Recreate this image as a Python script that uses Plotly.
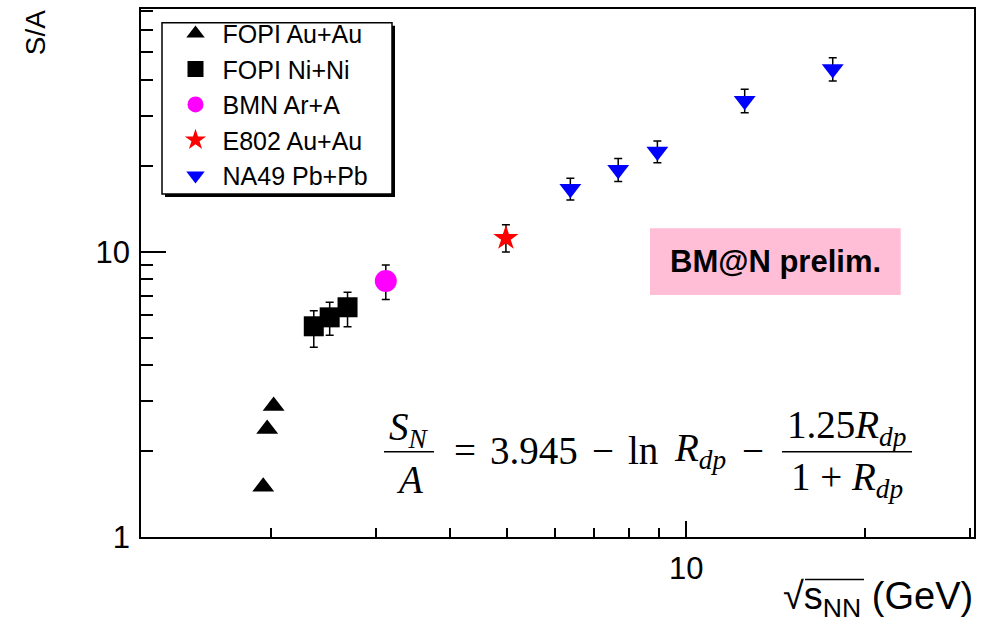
import math
import plotly.graph_objects as go

# ---------------- data ----------------
fopi_au_x = [1.94, 1.97, 2.02]
fopi_au_y = [1.50, 2.39, 2.88]

fopi_ni_x = [2.36, 2.51, 2.69]
fopi_ni_y = [5.48, 5.89, 6.39]
fopi_ni_eplus = [0.73, 0.76, 0.82]
fopi_ni_eminus = [0.85, 0.79, 0.93]

bmn_x = [3.12]
bmn_y = [7.90]
bmn_eplus = [1.08]
bmn_eminus = [1.09]

e802_x = [4.97]
e802_y = [11.17]
e802_eplus = [1.26]
e802_eminus = [1.19]

na49_x = [6.38, 7.68, 8.94, 12.54, 17.64]
na49_y = [16.64, 19.38, 22.47, 33.86, 43.75]
na49_eplus = [1.46, 1.87, 2.01, 3.27, 4.11]
na49_eminus = [1.46, 1.75, 1.94, 3.14, 4.06]

x_range = [1.208, 30.5]
y_range = [1.0, 71.0]
x_major = [10]
x_minor = [2, 3, 4, 5, 6, 7, 8, 9, 20, 30]
y_major = [1, 10]
y_minor = [2, 3, 4, 5, 6, 7, 8, 9, 20, 30, 40, 50, 60, 70]

# ---------------- layout helpers (pixel -> paper) ----------------
W, H = 987, 626
L, R, T, B = 141, 974, 7.3, 537.3


def px(xp):
    return (xp - L) / (R - L)


def py(yp):
    return (B - yp) / (B - T)


SANS = "Liberation Sans, Arial, Helvetica, sans-serif"
SERIF = "Liberation Serif, Times New Roman, serif"

fig = go.Figure()

err_style = dict(color="black", thickness=1.5, width=4)

fig.add_trace(go.Scatter(x=fopi_au_x, y=fopi_au_y, mode="markers", name="FOPI Au+Au",
                         marker=dict(symbol="triangle-up", size=19, color="black")))
fig.add_trace(go.Scatter(x=fopi_ni_x, y=fopi_ni_y, mode="markers", name="FOPI Ni+Ni",
                         marker=dict(symbol="square", size=20, color="black"),
                         error_y=dict(type="data", array=fopi_ni_eplus, arrayminus=fopi_ni_eminus,
                                      symmetric=False, **err_style)))
fig.add_trace(go.Scatter(x=bmn_x, y=bmn_y, mode="markers", name="BMN Ar+A",
                         marker=dict(symbol="circle", size=22, color="#ff00ff"),
                         error_y=dict(type="data", array=bmn_eplus, arrayminus=bmn_eminus,
                                      symmetric=False, **err_style)))
fig.add_trace(go.Scatter(x=e802_x, y=e802_y, mode="markers", name="E802 Au+Au",
                         marker=dict(symbol="star", size=19, color="#ff0000"),
                         error_y=dict(type="data", array=e802_eplus, arrayminus=e802_eminus,
                                      symmetric=False, **err_style)))
fig.add_trace(go.Scatter(x=na49_x, y=na49_y, mode="markers", name="NA49 Pb+Pb",
                         marker=dict(symbol="triangle-down", size=19, color="#0000ff"),
                         error_y=dict(type="data", array=na49_eplus, arrayminus=na49_eminus,
                                      symmetric=False, **err_style)))

axis_common = dict(showgrid=False, zeroline=False, showline=True, linecolor="black",
                   linewidth=1.5, mirror=True, ticks="inside", tickcolor="black",
                   tickwidth=1.5)

fig.update_xaxes(type="log", range=[math.log10(x_range[0]), math.log10(x_range[1])],
                 tickvals=x_major, ticktext=[str(v) for v in x_major], ticklen=16,
                 tickfont=dict(family=SANS, size=31, color="black"),
                 ticklabelstandoff=3,
                 minor=dict(tickvals=x_minor, ticks="inside", ticklen=9, tickcolor="black",
                            tickwidth=1.5, showgrid=False),
                 **axis_common)
fig.update_yaxes(type="log", range=[math.log10(y_range[0]), math.log10(y_range[1])],
                 tickvals=y_major, ticktext=[str(v) for v in y_major], ticklen=25,
                 tickfont=dict(family=SANS, size=31, color="black"),
                 ticklabelstandoff=3,
                 minor=dict(tickvals=y_minor, ticks="inside", ticklen=12.5, tickcolor="black",
                            tickwidth=1.5, showgrid=False),
                 **axis_common)

shapes = []
annotations = []

# legend box with shadow
shapes.append(dict(type="rect", xref="paper", yref="paper",
                   x0=px(165), x1=px(395), y0=py(196), y1=py(24),
                   fillcolor="black", line=dict(width=0), layer="above"))
shapes.append(dict(type="rect", xref="paper", yref="paper",
                   x0=px(162), x1=px(392), y0=py(193), y1=py(21),
                   fillcolor="white", line=dict(color="black", width=1.5), layer="above"))

# BM@N prelim. box
shapes.append(dict(type="rect", xref="paper", yref="paper",
                   x0=px(650), x1=px(900.7), y0=py(294.3), y1=py(227.3),
                   fillcolor="#ffbed6", line=dict(width=0), layer="above"))
annotations.append(dict(x=px(775), y=py(261), xref="paper", yref="paper",
                        text="<b>BM@N prelim.</b>", showarrow=False,
                        xanchor="center", yanchor="middle",
                        font=dict(family=SANS, size=31, color="black")))

# formula
fsize = 39
ffont = dict(family=SERIF, size=fsize, color="black")


def ftext(txt, xc, yc, anchor="center"):
    annotations.append(dict(x=px(xc), y=py(yc), xref="paper", yref="paper",
                            text=txt, showarrow=False, xanchor=anchor,
                            yanchor="middle", font=ffont))


ftext("<i>S</i><sub><i>N</i></sub>", 409, 429)
ftext("<i>A</i>", 409, 480)
shapes.append(dict(type="line", xref="paper", yref="paper",
                   x0=px(384), x1=px(434), y0=py(451.7), y1=py(451.7),
                   line=dict(color="black", width=1.5), layer="above"))
ftext("=", 465, 450)
ftext("3.945", 534, 450)
ftext("\u2212", 602.5, 450)
ftext("ln", 642.5, 450)
ftext("<i>R</i><sub><i>dp</i></sub>", 700, 450)
ftext("\u2212", 752.5, 450)
ftext("1.25<i>R</i><sub><i>dp</i></sub>", 846, 427)
shapes.append(dict(type="line", xref="paper", yref="paper",
                   x0=px(782), x1=px(912), y0=py(451.7), y1=py(451.7),
                   line=dict(color="black", width=1.5), layer="above"))
ftext("1 + <i>R</i><sub><i>dp</i></sub>", 847, 480)

# axis titles
annotations.append(dict(x=px(975), y=py(600), xref="paper", yref="paper",
                        text="\u221As<sub>NN</sub> (GeV)", showarrow=False,
                        xanchor="right", yanchor="middle",
                        font=dict(family=SANS, size=38, color="black")))
shapes.append(dict(type="line", xref="paper", yref="paper",
                   x0=px(805), x1=px(864), y0=py(580), y1=py(580),
                   line=dict(color="black", width=1.5), layer="above"))
annotations.append(dict(x=px(35), y=py(7), xref="paper", yref="paper",
                        text="S/A", showarrow=False, textangle=-90,
                        xanchor="center", yanchor="top",
                        font=dict(family=SANS, size=28, color="black")))

fig.update_layout(
    width=W, height=H,
    margin=dict(l=L, r=W - R, t=T, b=H - B),
    paper_bgcolor="white", plot_bgcolor="white",
    showlegend=True,
    legend=dict(x=px(168.5), y=py(9), xanchor="left", yanchor="top",
                borderwidth=0, bgcolor="rgba(0,0,0,0)",
                font=dict(family=SANS, size=25, color="black"),
                itemwidth=44, tracegroupgap=0, traceorder="normal"),
    shapes=shapes, annotations=annotations,
)

fig.write_html("out.html", config={"displayModeBar": False},
               post_script="document.body.style.margin='0px';")
